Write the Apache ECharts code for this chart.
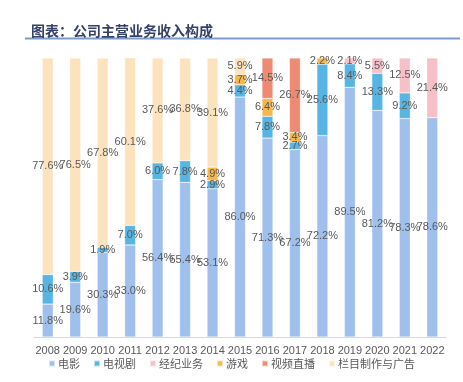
<!DOCTYPE html>
<html><head><meta charset="utf-8">
<script src="https://cdn.jsdelivr.net/npm/echarts@6/dist/echarts.min.js"></script>
<style>html,body{margin:0;padding:0;background:#fff}#c{width:463px;height:382px}</style>
</head><body><div id="c"></div>
<script>
const years = ['2008','2009','2010','2011','2012','2013','2014','2015','2016','2017','2018','2019','2020','2021','2022'];
const seriesNames = ['电影','电视剧','经纪业务','游戏','视频直播','栏目制作与广告'];
const film      = [11.8,19.6,30.3,33.0,56.4,55.4,53.1,86.0,71.3,67.2,72.2,89.5,81.2,78.3,78.6];
const tv        = [10.6,3.9,1.9,7.0,6.0,7.8,2.9,4.4,7.8,2.7,25.6,8.4,13.3,9.2,null];
const agency    = [null,null,null,null,null,null,null,null,null,null,null,2.1,5.5,12.5,21.4];
const game      = [null,null,null,null,null,null,4.9,3.7,6.4,3.4,2.2,null,null,null,null];
const live      = [null,null,null,null,null,null,null,null,14.5,26.7,null,null,null,null,null];
const program   = [77.6,76.5,67.8,60.1,37.6,36.8,39.1,5.9,null,null,null,null,null,null,null];
const colors = ['#9fbfec','#56b5e3','#f7bfc8','#f8b74b','#ee8a72','#fde3bd'];
const allData = [film,tv,agency,game,live,program];

const chart = echarts.init(document.getElementById('c'));
chart.setOption({
  animation:false,
  title:{text:'图表：公司主营业务收入构成',left:26,top:19,textStyle:{fontSize:14,fontWeight:'bold',color:'#37426c',fontFamily:'Noto Sans CJK SC'}},
  graphic:[{type:'rect',shape:{x:25,y:37.5,width:435,height:2},style:{fill:'#7f9bc8'}}],
  grid:{left:34,right:17,top:58,bottom:45},
  legend:{bottom:8,left:'center',itemWidth:6,itemHeight:6,itemGap:13,icon:'rect',
    textStyle:{fontSize:11,color:'#595959',fontFamily:'Noto Sans CJK SC',padding:[0,0,0,-2]},data:seriesNames},
  xAxis:{type:'category',data:years,axisLine:{lineStyle:{color:'#d9d9d9'}},axisTick:{show:false},
    axisLabel:{color:'#595959',fontSize:11,margin:8,interval:0}},
  yAxis:{type:'value',min:0,max:100,show:false,splitLine:{show:false}},
  series: seriesNames.map((n,i)=>({
    name:n,type:'bar',stack:'a',barWidth:11,
    itemStyle:{color:colors[i],borderColor:'rgba(255,255,255,0.6)',borderWidth:0.5},
    label:{show:true,position:'inside',color:'#595959',fontSize:11,formatter:p=>p.value==null?'':p.value.toFixed(1)+'%'},
    labelLayout:{hideOverlap:false},
    data:allData[i]
  }))
});
</script></body></html>
